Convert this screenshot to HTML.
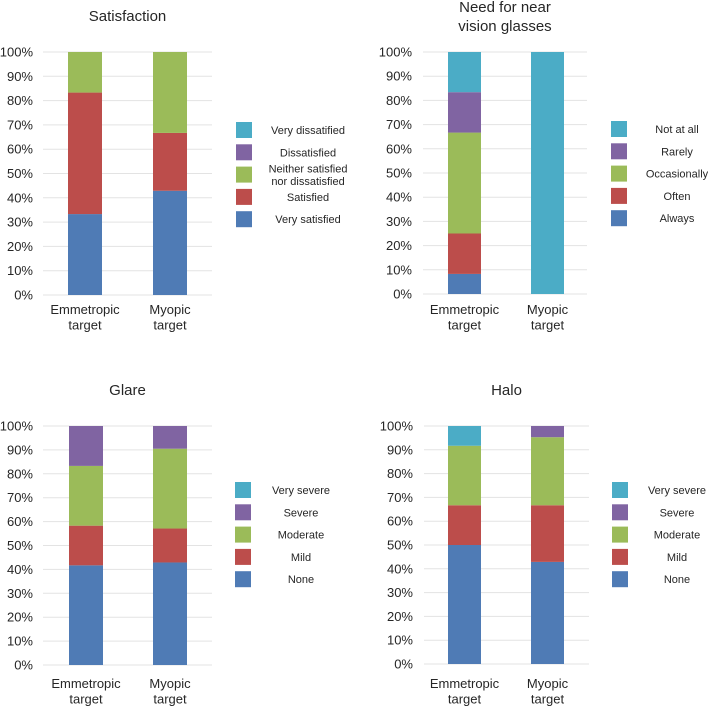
<!DOCTYPE html>
<html><head><meta charset="utf-8"><style>
html,body{margin:0;padding:0;background:#fff;}
svg{display:block;font-family:"Liberation Sans",Arial,sans-serif;fill:#262626;}
</style></head><body>
<svg id="fig" width="708" height="706" xmlns="http://www.w3.org/2000/svg"></svg>
<script>
const categories = ["Emmetropic|target", "Myopic|target"];
const ticks = ["0%","10%","20%","30%","40%","50%","60%","70%","80%","90%","100%"];
const colors = ["#4f7bb5","#bc4d4b","#9bbb59","#8064a2","#4bacc6"];

const satLabels = ["Very satisfied","Satisfied","Neither satisfied|nor dissatisfied","Dissatisfied","Very dissatified"];
const satEmm = [33.3, 50, 16.7, 0, 0];
const satMyo = [42.9, 23.8, 33.3, 0, 0];

const nearLabels = ["Always","Often","Occasionally","Rarely","Not at all"];
const nearEmm = [8.3, 16.7, 41.7, 16.7, 16.6];
const nearMyo = [0, 0, 0, 0, 100];

const glareLabels = ["None","Mild","Moderate","Severe","Very severe"];
const glareEmm = [41.7, 16.6, 25, 16.7, 0];
const glareMyo = [42.9, 14.2, 33.4, 9.5, 0];

const haloLabels = ["None","Mild","Moderate","Severe","Very severe"];
const haloEmm = [50, 16.7, 25, 0, 8.3];
const haloMyo = [42.9, 23.8, 28.6, 4.7, 0];

const svg = document.getElementById('fig');
const NS = "http://www.w3.org/2000/svg";
function mk(tag, attrs, parent){
  const e = document.createElementNS(NS, tag);
  for (const k in attrs) e.setAttribute(k, attrs[k]);
  (parent||svg).appendChild(e);
  return e;
}

function chart(cfg){
  const g = mk('g', {});
  
  
  const y = v => cfg.y0 - (v/100)*(cfg.y0 - cfg.y1);
  cfg.title.forEach((t,i)=>{
    const tt = mk('text', {x:(cfg.gx0+cfg.gx1)/2, y:cfg.ty + i*19, 'text-anchor':'middle', 'font-size':15}, g);
    tt.textContent = t;
    
    
  });
  ticks.forEach((t,i)=>{
    const v = i*10;
    const ln = mk('line', {x1:cfg.gx0, x2:cfg.gx1, y1:y(v), y2:y(v), stroke:'#e3e3e3', 'stroke-width':1}, g);
    
    
    const tx = mk('text', {x:cfg.lx, y:y(v)+4.5, 'text-anchor':'end', 'font-size':13}, g);
    tx.textContent = t;
    
    
  });
  [cfg.emm, cfg.myo].forEach((series, ci)=>{
    let acc = 0;
    const bx = cfg.bx[ci];
    series.forEach((val, si)=>{
      if (val > 0){
        const r = mk('rect', {x:bx, y:y(acc+val), width:cfg.bw, height:y(acc)-y(acc+val), fill:colors[si]}, g);
        
        
      }
      acc += val;
    });
    categories[ci].split('|').forEach((ln, li)=>{
      const tx = mk('text', {x:bx+cfg.bw/2, y:cfg.cy + li*15.5, 'text-anchor':'middle', 'font-size':13}, g);
      tx.textContent = ln;
      
      
    });
  });
  for (let k=0;k<5;k++){
    const si = 4-k;
    const cy = cfg.legY + k*22.3;
    const b = mk('rect', {x:cfg.legX, y:cy-8, width:16, height:16, fill:colors[si]}, g);
    
    
    const lines = cfg.labels[si].split('|');
    lines.forEach((ln, li)=>{
      const tx = mk('text', {x:cfg.legTX, y:cy + 4 + (li - (lines.length-1)/2)*12.5, 'text-anchor':'middle', 'font-size':11}, g);
      tx.textContent = ln;
      
      
    });
  }
}

chart({name:'satisfaction', title:['Satisfaction'], ty:21, y0:295, y1:52, gx0:43, gx1:212, lx:33,
  bx:[68,153], bw:34, cy:314, emm:satEmm, myo:satMyo, labels:satLabels, legX:236, legY:130, legTX:308});
chart({name:'near-vision', title:['Need for near','vision glasses'], ty:12, y0:294, y1:52, gx0:423, gx1:587, lx:412,
  bx:[448,531], bw:33, cy:314, emm:nearEmm, myo:nearMyo, labels:nearLabels, legX:611, legY:129, legTX:677});
chart({name:'glare', title:['Glare'], ty:395, y0:665, y1:426, gx0:43, gx1:212, lx:33,
  bx:[69,153], bw:34, cy:688, emm:glareEmm, myo:glareMyo, labels:glareLabels, legX:235, legY:490, legTX:301});
chart({name:'halo', title:['Halo'], ty:395, y0:664, y1:426, gx0:424, gx1:589, lx:413,
  bx:[448,531], bw:33, cy:688, emm:haloEmm, myo:haloMyo, labels:haloLabels, legX:612, legY:490, legTX:677});
</script>
</body></html>
